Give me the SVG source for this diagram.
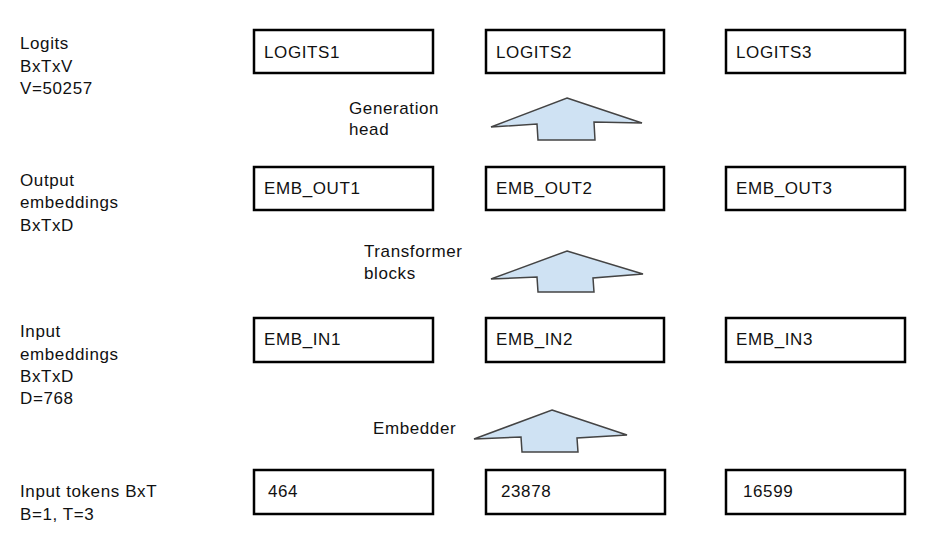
<svg xmlns="http://www.w3.org/2000/svg" width="927" height="545" viewBox="0 0 927 545">
<style>
.box{fill:#fff;stroke:#000;stroke-width:2.5}
.t{font-family:"Liberation Sans",Arial,sans-serif;font-size:17px;letter-spacing:0.6px;fill:#111}
.arr{fill:#cfe2f3;stroke:#444;stroke-width:1.5;stroke-linejoin:miter}
</style>
<rect width="927" height="545" fill="#fff"/>
<g id="labels">
<text class="t" x="20" y="49">Logits</text>
<text class="t" x="20" y="72">BxTxV</text>
<text class="t" x="20" y="94">V=50257</text>
<text class="t" x="20" y="186">Output</text>
<text class="t" x="20" y="208">embeddings</text>
<text class="t" x="20" y="231">BxTxD</text>
<text class="t" x="20" y="337">Input</text>
<text class="t" x="20" y="360">embeddings</text>
<text class="t" x="20" y="382">BxTxD</text>
<text class="t" x="20" y="404">D=768</text>
<text class="t" x="20" y="497">Input tokens BxT</text>
<text class="t" x="20" y="520">B=1, T=3</text>
</g>
<g id="logits1"><rect class="box" x="254" y="30" width="179" height="43"/><text class="t" x="264" y="58">LOGITS1</text></g>
<g id="logits2"><rect class="box" x="486" y="30" width="178" height="43"/><text class="t" x="496" y="58">LOGITS2</text></g>
<g id="logits3"><rect class="box" x="726" y="30" width="179" height="43"/><text class="t" x="736" y="58">LOGITS3</text></g>
<g id="embout1"><rect class="box" x="254" y="167" width="179" height="43"/><text class="t" x="264" y="194">EMB_OUT1</text></g>
<g id="embout2"><rect class="box" x="486" y="167" width="178" height="43"/><text class="t" x="496" y="194">EMB_OUT2</text></g>
<g id="embout3"><rect class="box" x="726" y="167" width="179" height="43"/><text class="t" x="736" y="194">EMB_OUT3</text></g>
<g id="embin1"><rect class="box" x="254" y="318" width="179" height="44"/><text class="t" x="264" y="345">EMB_IN1</text></g>
<g id="embin2"><rect class="box" x="486" y="318" width="178" height="44"/><text class="t" x="496" y="345">EMB_IN2</text></g>
<g id="embin3"><rect class="box" x="726" y="318" width="179" height="44"/><text class="t" x="736" y="345">EMB_IN3</text></g>
<g id="tok1"><rect class="box" x="254" y="470" width="179" height="44"/><text class="t" x="268" y="497">464</text></g>
<g id="tok2"><rect class="box" x="486" y="470" width="179" height="44"/><text class="t" x="501" y="497">23878</text></g>
<g id="tok3"><rect class="box" x="726" y="470" width="179" height="44"/><text class="t" x="743" y="497">16599</text></g>
<g id="connectors">
<polygon class="arr" points="567,98 642,123 594,122 595,140 538,140 537,124 491,127"/>
<polygon class="arr" points="567,251 643,274 593,278 594,292 538,292 537,277 491,279"/>
<polygon class="arr" points="552,410 627,435 577,438 578,452 522,452 521,437 474,439"/>
<text class="t" x="349" y="114">Generation</text>
<text class="t" x="349" y="135">head</text>
<text class="t" x="364" y="257">Transformer</text>
<text class="t" x="364" y="279">blocks</text>
<text class="t" x="373" y="434">Embedder</text>
</g>
</svg>
